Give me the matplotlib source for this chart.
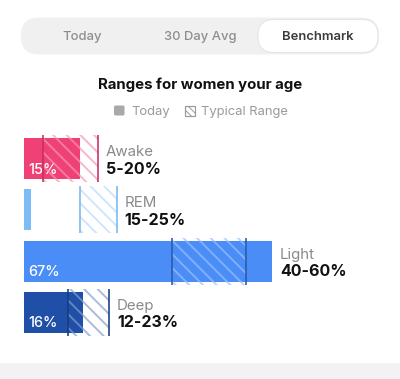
import matplotlib.pyplot as plt
from matplotlib.colors import to_rgb
from matplotlib.patches import FancyBboxPatch, Rectangle

# figure size in pixels and resolution
DPI = 82
W, H = 400, 379

# chart data
tabs = ['Today', '30 Day Avg', 'Benchmark']
stages = ['Awake', 'REM', 'Light', 'Deep']
today = [15, 2, 67, 16]
range_lo = [5, 15, 40, 12]
range_hi = [20, 25, 60, 23]
colors = ['#ef4176', '#7dbdf5', '#4a8df7', '#1f4fa6']
line_colors = ['#c92e60', '#7ab8f0', '#2a5aa6', '#163d80']


def pt(px):
    # pixels -> points at this dpi
    return px * 72 / DPI


def tint(c, f):
    r, g, b = to_rgb(c)
    return (r + (1 - r) * f, g + (1 - g) * f, b + (1 - b) * f)


plt.rcParams['font.family'] = ['Inter', 'DejaVu Sans']

fig = plt.figure(figsize=(W / DPI, H / DPI), dpi=DPI)
fig.patch.set_facecolor('white')

# background axes in pixel units for the header
bg = fig.add_axes([0, 0, 1, 1])
bg.set_xlim(0, W)
bg.set_ylim(H, 0)
bg.axis('off')

# segmented control
bg.add_patch(FancyBboxPatch((21, 17.5), 358, 37, boxstyle='round,pad=0,rounding_size=18',
                            fc='#f0f0f0', ec='none'))
bg.add_patch(FancyBboxPatch((258, 19.5), 120, 33, boxstyle='round,pad=0,rounding_size=16',
                            fc='white', ec='#e4e4e4', lw=pt(1)))
tab_x = [82, 200, 318]
for name, x in zip(tabs, tab_x):
    sel = name == 'Benchmark'
    bg.text(x, 40, name, ha='center', va='baseline', fontsize=pt(13),
            color='#3c3c3c' if sel else '#8d8d8d', fontweight='semibold' if sel else 'medium')

# title and legend
bg.text(200, 88.5, 'Ranges for women your age', ha='center', va='baseline',
        fontsize=pt(15), fontweight='bold', color='#111111')
bg.add_patch(FancyBboxPatch((114, 105.5), 10.5, 10, boxstyle='round,pad=0,rounding_size=1.5',
                            fc='#a9a9a9', ec='none'))
bg.text(131, 114.5, 'Today', va='baseline', fontsize=pt(13), color='#9a9a9a')
plt.rcParams['hatch.linewidth'] = pt(1.0)
bg.add_patch(Rectangle((184.5, 106), 10, 9.5, fc='white', ec='#9a9a9a', lw=pt(1.2), hatch='\\\\\\\\'))
bg.text(201, 114.5, 'Typical Range', va='baseline', fontsize=pt(13), color='#9a9a9a')

# bottom strip
bg.add_patch(Rectangle((0, 363), W, 16, fc='#f2f2f4', ec='none'))

# bar axes: x in percent, one row per stage
ax = fig.add_axes([24 / W, (H - 338) / H, 370 / W, 205 / H])
ax.set_xlim(0, 100)
ax.set_ylim(3.5, -0.5)
ax.axis('off')

y = list(range(len(stages)))
widths = [h - l for l, h in zip(range_lo, range_hi)]

ax.barh(y, today, height=0.8, color=colors, linewidth=0, zorder=1)

# hatch stripes for the typical ranges
plt.rcParams['hatch.linewidth'] = pt(1.9)
for i in y:
    ax.barh(i, widths[i], left=range_lo[i], height=0.92, facecolor='none',
            edgecolor=(*tint(colors[i], 0.45), 0.7), hatch='\\\\', linewidth=0, zorder=4)
ax.vlines(range_lo, [i - 0.46 for i in y], [i + 0.46 for i in y], colors=line_colors, lw=pt(1.6), zorder=5)
ax.vlines(range_hi, [i - 0.46 for i in y], [i + 0.46 for i in y], colors=line_colors, lw=pt(1.6), zorder=5)

for i, name in enumerate(stages):
    x_end = max(today[i], range_hi[i])
    ax.annotate(name, (x_end, i), xytext=(pt(8), pt(2.5)), textcoords='offset points',
                ha='left', va='baseline', fontsize=pt(15), color='#8a8a8a')
    ax.annotate(f'{range_lo[i]}-{range_hi[i]}%', (x_end, i), xytext=(pt(8), -pt(15)),
                textcoords='offset points', ha='left', va='baseline', fontsize=pt(16),
                fontweight='bold', color='#111111')
    if today[i] >= 10:
        ax.annotate(f'{today[i]}%', (0, i), xytext=(pt(4), -pt(15)), textcoords='offset points',
                    ha='left', va='baseline', fontsize=pt(14.5), fontweight='medium',
                    color='white', zorder=2)

fig.savefig('out.png', dpi=DPI)
